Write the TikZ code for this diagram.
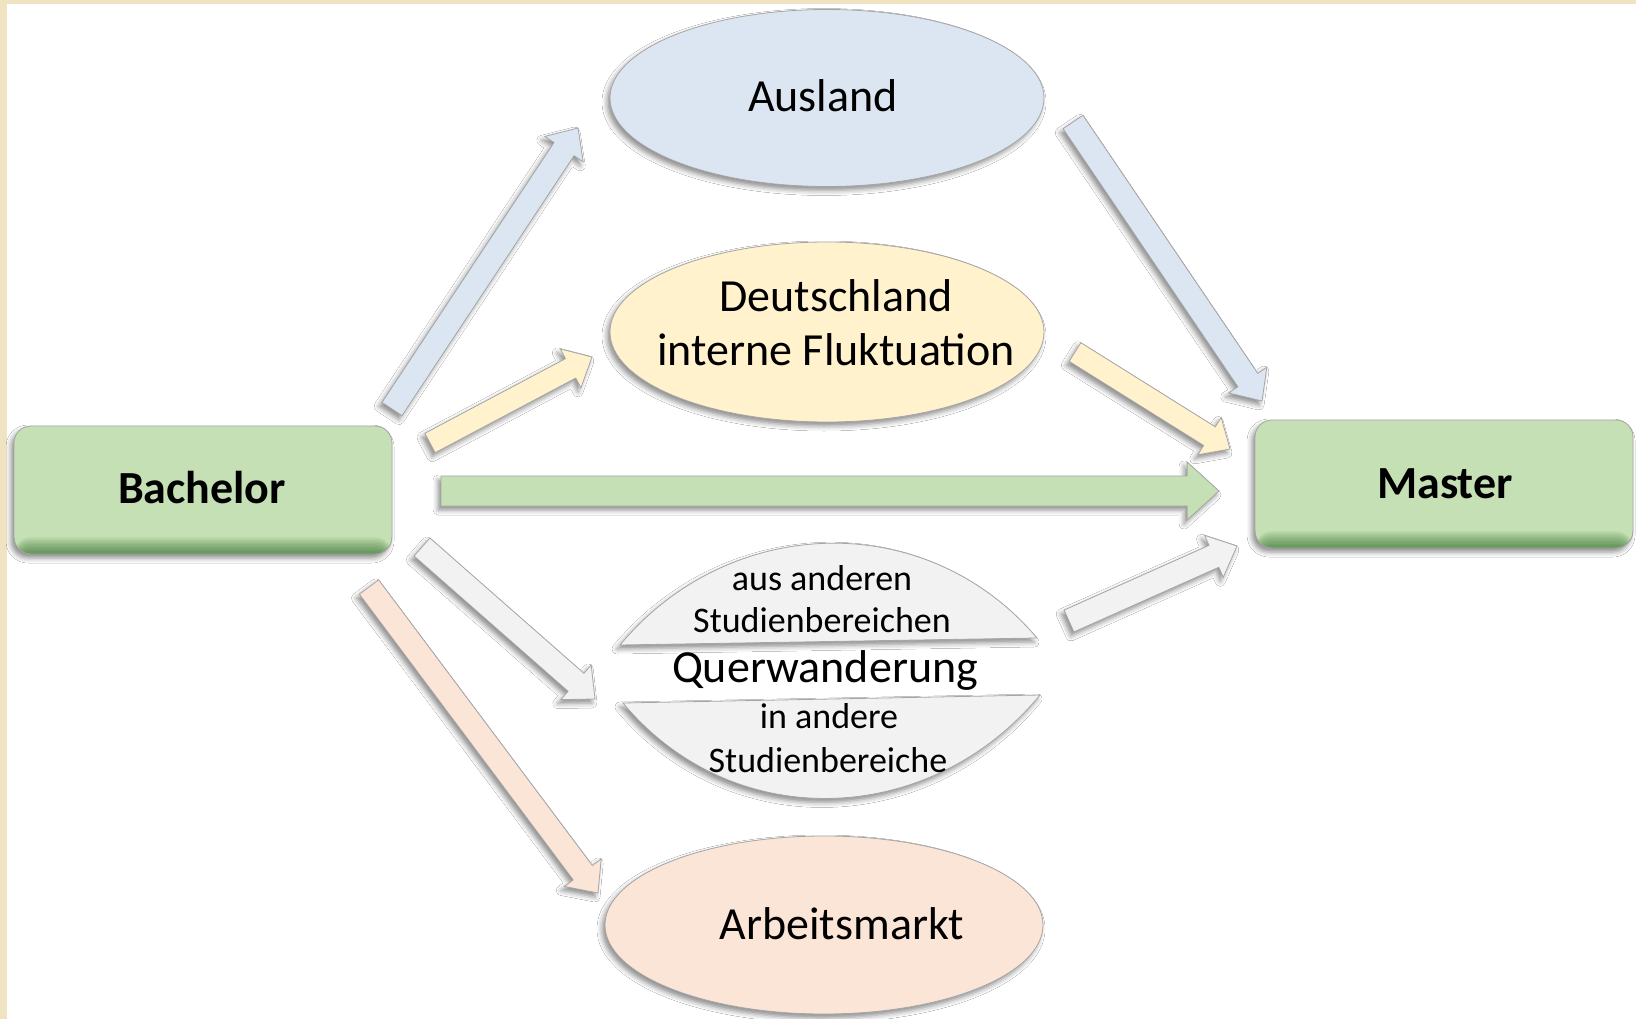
\documentclass[tikz,border=0pt]{standalone}
\usepackage{fontspec}
\setmainfont{Carlito}
\usetikzlibrary{calc}
\usetikzlibrary{shapes.geometric}
\usetikzlibrary{shadows.blur}

\definecolor{frame}{HTML}{EFE3C1}
\definecolor{boxgreen}{HTML}{C5E0B4}
\definecolor{lblue}{HTML}{DCE6F2}
\definecolor{lyellow}{HTML}{FFF2CC}
\definecolor{lgray}{HTML}{F2F2F2}
\definecolor{lsalmon}{HTML}{FBE5D6}
\definecolor{outline}{HTML}{A6A6A6}

\tikzset{softshadow/.style={blur shadow={shadow xshift=-3pt, shadow yshift=-4pt, shadow blur radius=5pt, shadow opacity=45}}}
\tikzset{degree/.style={rectangle, rounded corners=17pt, minimum width=378pt, minimum height=128pt, fill=boxgreen, draw=outline, line width=.8pt, softshadow,
  path picture={\foreach \i in {1,...,12} \fill[black!70!green, opacity=.05] ([yshift=1.4*\i pt]path picture bounding box.south west) rectangle (path picture bounding box.south east);}}}
\tikzset{place/.style={ellipse, inner sep=0, draw=outline, line width=.8pt, softshadow}}
\tikzset{big/.style={font=\fontsize{46}{57}\selectfont, anchor=base, inner sep=0}}
\tikzset{small/.style={font=\fontsize{36}{42}\selectfont, anchor=base, inner sep=0}}

% #1 fill, #2 tail, #3 tip, #4 half shaft, #5 half head
\newcommand{\blockarrow}[5]{
\draw[fill=#1, draw=outline, line width=.8pt, line join=miter, softshadow]
  let \p1=(#2), \p2=(#3), \n1={atan2(\y2-\y1,\x2-\x1)}, \n2={veclen(\x2-\x1,\y2-\y1)-1.1*#5} in
  ($(\p1)+(\n1+90:#4)$) -- ($(\p1)+(\n1:\n2)+(\n1+90:#4)$) -- ($(\p1)+(\n1:\n2)+(\n1+90:#5)$) -- (\p2)
  -- ($(\p1)+(\n1:\n2)+(\n1-90:#5)$) -- ($(\p1)+(\n1:\n2)+(\n1-90:#4)$) -- ($(\p1)+(\n1-90:#4)$) -- cycle;
}

\begin{document}
\begin{tikzpicture}[x=1pt, y=-1pt]
\useasboundingbox (0,0) rectangle (1636,1019);
\fill[frame] (0,0) rectangle (1636,1019);
\fill[white] (7,4) rectangle (1636,1019);

\node[degree] (bachelor) at (203,490) {};
\node[big, font=\fontsize{46}{57}\selectfont\bfseries] (bachelortext) at (202,503) {Bachelor};
\node[degree] (master) at (1444,484) {};
\node[big, font=\fontsize{46}{57}\selectfont\bfseries] (mastertext) at (1445,498) {Master};

\node[place, fill=lblue, minimum width=434pt, minimum height=177pt] (ausland) at (827,98) {};
\node[big] (auslandtext) at (823,112) {Ausland};
\node[place, fill=lyellow, minimum width=434pt, minimum height=180pt] (deutschland) at (827,332) {};
\node[big] (deutschtext1) at (836,311) {Deutschland};
\node[big] (deutschtext2) at (836,365) {interne Fluktuation};
\node[place, fill=lsalmon, minimum width=438pt, minimum height=178pt] (arbeit) at (824,925) {};
\node[big] (arbeittext) at (842,939) {Arbeitsmarkt};

% Querwanderung
\draw[fill=lgray, draw=outline, line width=.8pt, softshadow] (620,645) .. controls (730,513) and (927,508) .. (1037,638) -- cycle;
\draw[fill=lgray, draw=outline, line width=.8pt, softshadow] (623,703) .. controls (733,835) and (930,828) .. (1040,695) -- cycle;
\node[small] (austext1) at (822,590) {aus anderen};
\node[small] (austext2) at (822,632) {Studienbereichen};
\node[big] (quer) at (825,682) {Querwanderung};
\node[small] (intext1) at (829,728) {in andere};
\node[small] (intext2) at (828,772) {Studienbereiche};

\coordinate (bach-aus) at (392,409);
\coordinate (aus-bach) at (578,128);
\coordinate (bach-deu) at (430,443);
\coordinate (deu-bach) at (592,357);
\coordinate (bach-mas) at (441,491);
\coordinate (mas-bach) at (1219,491);
\coordinate (bach-quer) at (422,547);
\coordinate (quer-bach) at (595,699);
\coordinate (bach-arb) at (369,587);
\coordinate (arb-bach) at (598,893);
\coordinate (aus-mas) at (1073,122);
\coordinate (mas-aus) at (1262,401);
\coordinate (deu-mas) at (1075,352);
\coordinate (mas-deu) at (1230,449);
\coordinate (quer-mas) at (1069,621);
\coordinate (mas-quer) at (1237,546);

\blockarrow{lblue}{bach-aus}{aus-bach}{12pt}{23pt}
\blockarrow{lyellow}{bach-deu}{deu-bach}{11pt}{22pt}
\blockarrow{boxgreen}{bach-mas}{mas-bach}{15pt}{29pt}
\blockarrow{lgray}{bach-quer}{quer-bach}{12pt}{23pt}
\blockarrow{lsalmon}{bach-arb}{arb-bach}{12pt}{23pt}
\blockarrow{lblue}{aus-mas}{mas-aus}{12pt}{23pt}
\blockarrow{lyellow}{deu-mas}{mas-deu}{11pt}{22pt}
\blockarrow{lgray}{quer-mas}{mas-quer}{12pt}{23pt}
\end{tikzpicture}
\end{document}
